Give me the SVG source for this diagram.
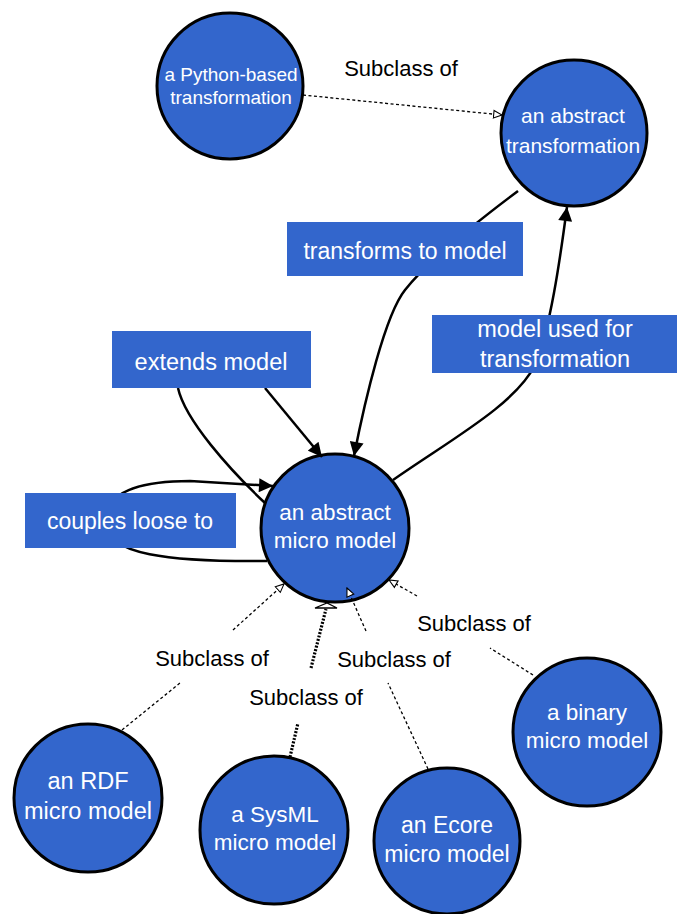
<svg xmlns="http://www.w3.org/2000/svg" width="680" height="914" viewBox="0 0 680 914">
<style>
.node circle{fill:#3366CC;stroke:#000;stroke-width:3}
.nt{fill:#fff;font-family:"Liberation Sans",Arial,sans-serif;text-anchor:middle}
.box{fill:#3366CC}
.lbl{fill:#000;font-family:"Liberation Sans",Arial,sans-serif;font-size:22px;text-anchor:middle}
.edge{fill:none;stroke:#000;stroke-width:2.5}
.sub{fill:none;stroke:#000;stroke-width:1.3;stroke-dasharray:3 2.5}
</style>
<defs>
<marker id="fa" viewBox="0 0 10 10" refX="10" refY="5" markerWidth="16" markerHeight="14" markerUnits="userSpaceOnUse" orient="auto">
<path d="M0,0 L10,5 L0,10 z" fill="#000"/>
</marker>
<marker id="ha" viewBox="0 0 12 12" refX="11" refY="6" markerWidth="10" markerHeight="10" markerUnits="userSpaceOnUse" orient="auto">
<path d="M1,1.5 L11,6 L1,10.5 z" fill="#fff" stroke="#000" stroke-width="1.3"/>
</marker>
</defs>
<g id="python" class="node">
<circle cx="230" cy="86" r="73"/>
<text class="nt" x="231" y="81" font-size="19">a Python-based</text>
<text class="nt" x="231" y="104" font-size="19">transformation</text>
</g>
<g id="abstract-transformation" class="node">
<circle cx="574" cy="133" r="73"/>
<text class="nt" x="573" y="123" font-size="21">an abstract</text>
<text class="nt" x="573" y="153" font-size="21">transformation</text>
</g>
<g id="abstract-micro-model" class="node">
<circle cx="335" cy="528" r="74"/>
<text class="nt" x="335" y="520" font-size="22.5">an abstract</text>
<text class="nt" x="335" y="548" font-size="22.5">micro model</text>
</g>
<g id="rdf" class="node">
<circle cx="88" cy="798" r="74"/>
<text class="nt" x="88" y="789" font-size="23.5">an RDF</text>
<text class="nt" x="88" y="819" font-size="23.5">micro model</text>
</g>
<g id="sysml" class="node">
<circle cx="274" cy="830" r="74"/>
<text class="nt" x="275" y="822" font-size="22.5">a SysML</text>
<text class="nt" x="275" y="850" font-size="22.5">micro model</text>
</g>
<g id="ecore" class="node">
<circle cx="447" cy="841" r="73"/>
<text class="nt" x="447" y="833" font-size="23">an Ecore</text>
<text class="nt" x="447" y="862" font-size="23">micro model</text>
</g>
<g id="binary" class="node">
<circle cx="587" cy="732" r="74"/>
<text class="nt" x="587" y="720" font-size="22.5">a binary</text>
<text class="nt" x="587" y="748" font-size="22.5">micro model</text>
</g>
<g id="connectors">
<path class="sub" d="M303,95 L502,115" marker-end="url(#ha)"/>
<path class="edge" d="M518,191 C 490,212 430,258 405,290 C 385,315 365,400 354,456" marker-end="url(#fa)"/>
<path class="edge" d="M393,480 C 450,440 515,405 535,365 C 550,330 560,260 567,207" marker-end="url(#fa)"/>
<path class="edge" d="M265,503 C 230,470 185,420 178,388"/>
<path class="edge" d="M265,388 L322,457" marker-end="url(#fa)"/>
<path class="edge" d="M267,561 C 170,562 105,555 105,522 C 105,488 150,481 190,481 L273,486" marker-end="url(#fa)"/>
<path class="sub" d="M122,730 L180,683"/>
<path class="sub" d="M233,630 L284,584" marker-end="url(#ha)"/>
<path class="sub" style="stroke-width:3.2;stroke-dasharray:2 1.5" d="M290,757 L298,723"/>
<path class="sub" style="stroke-width:3.2;stroke-dasharray:2 1.5" d="M311,668 L326,609"/>
<polygon points="315,608 337,608 327,603" fill="#fff" stroke="#000" stroke-width="1.3"/>
<path class="sub" d="M428,769 L388,683"/>
<path class="sub" d="M366,631 L347,588" marker-end="url(#ha)"/>
<path class="sub" d="M533,675 L490,648"/>
<path class="sub" d="M417,596 L389,580" marker-end="url(#ha)"/>
</g>
<g id="labels">
<text class="lbl" x="401" y="76">Subclass of</text>
<text class="lbl" x="212" y="666">Subclass of</text>
<text class="lbl" x="306" y="705">Subclass of</text>
<text class="lbl" x="394" y="667">Subclass of</text>
<text class="lbl" x="474" y="631">Subclass of</text>
</g>
<g id="label-transforms">
<rect class="box" x="287" y="222" width="236" height="54"/>
<text class="nt" x="405" y="259" font-size="23">transforms to model</text>
</g>
<g id="label-usedfor">
<rect class="box" x="432" y="315" width="245" height="58"/>
<text class="nt" x="555" y="337" font-size="23.5">model used for</text>
<text class="nt" x="555" y="367" font-size="23.5">transformation</text>
</g>
<g id="label-extends">
<rect class="box" x="112" y="331" width="199" height="57"/>
<text class="nt" x="211" y="370" font-size="23.5">extends model</text>
</g>
<g id="label-couples">
<rect class="box" x="25" y="493" width="211" height="55"/>
<text class="nt" x="130" y="529" font-size="23">couples loose to</text>
</g>
</svg>
